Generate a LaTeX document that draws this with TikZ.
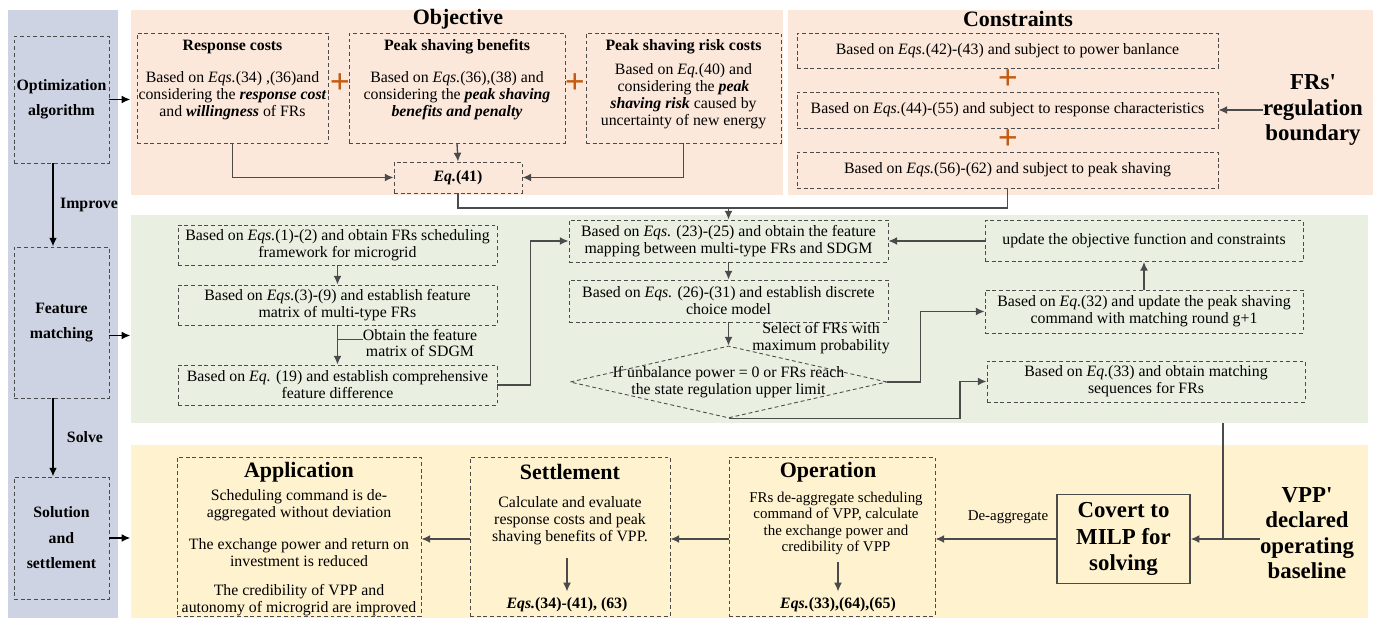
\documentclass[tikz,border=0pt]{standalone}
\usepackage{fontspec}
\setmainfont{Liberation Serif}
\usetikzlibrary{positioning,shapes.geometric,arrows.meta}
\definecolor{colbg}{RGB}{205,211,226}
\definecolor{objbg}{RGB}{251,232,219}
\definecolor{matchbg}{RGB}{233,240,225}
\definecolor{solvebg}{RGB}{255,242,206}
\definecolor{edge}{RGB}{75,75,75}
\definecolor{pluscol}{RGB}{197,90,17}
\newcommand{\tfs}{\fontsize{9}{9.6}\selectfont}
\tikzstyle{region} = [inner sep=0pt, anchor=north west]
\tikzstyle{dbox} = [draw=edge, line width=0.5pt, dash pattern=on 2.2pt off 1.6pt, inner sep=0pt]
\tikzstyle{txt} = [align=center, font=\tfs, inner sep=0pt]
\tikzstyle{head} = [font=\tfs\bfseries, inner sep=0pt]
\tikzstyle{title} = [font=\fontsize{12.5}{14.5}\selectfont\bfseries, align=center, inner sep=0pt]
\tikzstyle{side} = [font=\fontsize{9}{14.5}\selectfont\bfseries, align=center]
\tikzstyle{plus} = [text=pluscol, font=\fontsize{20}{20}\selectfont\bfseries, inner sep=0pt]
\tikzstyle{line} = [draw=edge, line width=0.75pt]
\tikzstyle{arr} = [line, -{Latex[length=5pt,width=4.5pt]}]
\tikzstyle{karr} = [draw=black, line width=1pt, -{Latex[length=5pt,width=4.5pt]}]

\begin{document}
\begin{tikzpicture}[x=0.2mm,y=-0.2mm]
\useasboundingbox (0,0) rectangle (1381,622);
% background panels
\node[region, fill=colbg, minimum width=110*.2mm, minimum height=608*.2mm] (colreg) at (8,10) {};
\node[region, fill=objbg, minimum width=652*.2mm, minimum height=185*.2mm] (objreg) at (131,10) {};
\node[region, fill=objbg, minimum width=585*.2mm, minimum height=185*.2mm] (conreg) at (788,10) {};
\node[region, fill=matchbg, minimum width=1237*.2mm, minimum height=208*.2mm] (matchreg) at (131,215) {};
\node[region, fill=solvebg, minimum width=1237*.2mm, minimum height=173*.2mm] (solvereg) at (131,445) {};

% left column
\node[dbox, side, minimum width=95*.2mm, minimum height=127*.2mm] (opt) at (61.5,99.5) {Optimization\\algorithm};
\node[dbox, side, minimum width=95*.2mm, minimum height=151*.2mm] (feat) at (61.5,322.5) {Feature\\matching};
\node[dbox, side, minimum width=95*.2mm, minimum height=122*.2mm] (sol) at (61.5,538) {Solution\\and\\settlement};
\node[side] (imp) at (89,205) {Improve};
\node[side] (slv) at (85,437) {Solve};
\draw[karr] ([xshift=-1.7mm]opt.south) -- ([xshift=-1.7mm]feat.north);
\draw[karr] ([xshift=-1.7mm]feat.south) -- ([xshift=-1.7mm]sol.north);
\draw[karr] (opt.east) -- +(21,0);
\draw[karr] ([yshift=-2.6mm]feat.east) -- +(21,0);
\draw[karr] (sol.east) -- +(21,0);

% objective
\node[title] (objt) at (458,19) {Objective};
\node[dbox, minimum width=191*.2mm, minimum height=110*.2mm] (resp) at (232.5,88) {};
\node[head] (resph) at (232.5,47) {Response costs};
\node[txt] (respt) at (232.5,96) {Based on \textit{Eqs.}(34) ,(36)and\\considering the \textbf{\textit{response cost}}\\and \textbf{\textit{willingness}} of FRs};
\node[dbox, minimum width=216*.2mm, minimum height=110*.2mm] (ben) at (457,88) {};
\node[head] (benh) at (457,47) {Peak shaving benefits};
\node[txt] (bent) at (457,96) {Based on \textit{Eqs.}(36),(38) and\\considering the \textbf{\textit{peak shaving}}\\\textbf{\textit{benefits and penalty}}};
\node[dbox, minimum width=195*.2mm, minimum height=110*.2mm] (risk) at (683.5,88) {};
\node[head] (riskh) at (683.5,47) {Peak shaving risk costs};
\node[txt] (riskt) at (683.5,96) {Based on \textit{Eq.}(40) and\\considering the \textbf{\textit{peak}}\\\textbf{\textit{shaving risk}} caused by\\uncertainty of new energy};
\node[plus] (p1) at (340,84) {+};
\node[plus] (p2) at (575,84) {+};
\node[dbox, font=\tfs, minimum width=128*.2mm, minimum height=31*.2mm] (eq41) at (458,177.5) {\textbf{\textit{Eq.}(41)}};
\draw[arr] (resp.south) |- (eq41.west);
\draw[arr] (ben.south) -- (eq41.north);
\draw[arr] (risk.south) |- (eq41.east);

% constraints
\node[title] (cont) at (1018,19) {Constraints};
\node[dbox, txt, minimum width=421*.2mm, minimum height=35*.2mm] (con1) at (1007.5,50.5) {Based on \textit{Eqs.}(42)-(43) and subject to power banlance};
\node[dbox, txt, minimum width=421*.2mm, minimum height=36*.2mm] (con2) at (1007.5,110) {Based on \textit{Eqs.}(44)-(55) and subject to response characteristics};
\node[dbox, txt, minimum width=421*.2mm, minimum height=36*.2mm] (con3) at (1007.5,170) {Based on \textit{Eqs.}(56)-(62) and subject to peak shaving};
\node[plus] (p3) at (1008,80) {+};
\node[plus] (p4) at (1008,140) {+};
\node[title, font=\fontsize{13}{14.5}\selectfont\bfseries] (frs) at (1313,110) {FRs\textquotesingle\\regulation\\boundary};
\draw[arr] (frs.west) -- (con2.east);

% feature matching
\node[dbox, txt, minimum width=319*.2mm, minimum height=40*.2mm] (a1) at (337.5,245) {Based on \textit{Eqs.}(1)-(2) and obtain FRs scheduling\\framework for microgrid};
\node[dbox, txt, minimum width=319*.2mm, minimum height=40*.2mm] (a2) at (337.5,305) {Based on \textit{Eqs.}(3)-(9) and establish feature\\matrix of multi-type FRs};
\node[dbox, txt, minimum width=319*.2mm, minimum height=40*.2mm] (a3) at (337.5,385) {Based on \textit{Eq.} (19) and establish comprehensive\\feature difference};
\node[txt] (sdgm) at (420,343) {Obtain the feature\\matrix of SDGM};
\coordinate (lead) at ([yshift=-2.2mm]sdgm.north west);
\draw[arr] (a1.south) -- (a2.north);
\draw[arr] (a2.south) -- (a3.north);
\draw[line] (lead) -- (lead -| a2.south);

\node[dbox, txt, minimum width=319*.2mm, minimum height=42*.2mm] (b1) at (728.5,241) {Based on \textit{Eqs.} (23)-(25) and obtain the feature\\mapping between multi-type FRs and SDGM};
\node[dbox, txt, minimum width=319*.2mm, minimum height=42*.2mm] (b2) at (728.5,301) {Based on \textit{Eqs.} (26)-(31) and establish discrete\\choice model};
\node[dbox, diamond, minimum width=317*.2mm, minimum height=72*.2mm] (dia) at (728.5,382) {};
\node[txt] (diat) at (728.5,382) {If unbalance power = 0 or FRs reach\\the state regulation upper limit};
\node[txt] (sel) at (821,338) {Select of FRs with\\maximum probability};
\coordinate (mid) at (728.5,208);
\draw[line] (eq41.south) |- (mid);
\draw[line] (con3.south) |- (mid);
\draw[arr] (mid) -- (b1.north);
\draw[arr] (a3.east) -- +(33,0) |- (b1.west);
\draw[arr] (b1.south) -- (b2.north);
\draw[arr] (b2.south) -- (dia.north);

\node[dbox, txt, minimum width=318*.2mm, minimum height=41*.2mm] (c1) at (1144,241) {update the objective function and constraints};
\node[dbox, txt, minimum width=318*.2mm, minimum height=43*.2mm] (c2) at (1144,311.5) {Based on \textit{Eq.}(32) and update the peak shaving\\command with matching round g+1};
\node[dbox, txt, minimum width=318*.2mm, minimum height=41*.2mm] (c3) at (1146,381.5) {Based on \textit{Eq.}(33) and obtain matching\\sequences for FRs};
\draw[arr] (c2.north) -- (c1.south);
\draw[arr] (c1.west) -- (b1.east);
\draw[arr] (dia.east) -- +(33,0) |- (c2.west);
\draw[arr] (dia.south) -- +(231.5,0) |- (c3.west);

% solution and settlement
\node[dbox, minimum width=244*.2mm, minimum height=159*.2mm] (app) at (299,536.5) {};
\node[title] (apph) at (299,472) {Application};
\node[txt] (app1) at (299,505.5) {Scheduling command is de-\\aggregated without deviation};
\node[txt] (app2) at (299,553) {The exchange power and return on\\investment is reduced};
\node[txt] (app3) at (299,600.5) {The credibility of VPP and\\autonomy of microgrid are improved};

\node[dbox, minimum width=200*.2mm, minimum height=159*.2mm] (set) at (570,536.5) {};
\node[title] (seth) at (570,472) {Settlement};
\node[txt] (sett) at (570,521) {Calculate and evaluate\\response costs and peak\\shaving benefits of VPP.};
\node[txt] (seteq) at (567,605) {\textbf{\textit{Eqs.}(34)-(41), (63)}};
\draw[arr] ([yshift=-2.6mm]sett.south -| seteq.north) -- ([yshift=1.2mm]seteq.north);

\node[dbox, minimum width=206*.2mm, minimum height=159*.2mm] (op) at (832,536.5) {};
\node[title] (oph) at (828,472) {Operation};
\node[txt, font=\fontsize{8.5}{9.2}\selectfont] (opt2) at (836,523.5) {FRs de-aggregate scheduling\\command of VPP, calculate\\the exchange power and\\credibility of VPP};
\node[txt] (opeq) at (838,605) {\textbf{\textit{Eqs.}(33),(64),(65)}};
\draw[arr] ([yshift=-1.4mm]opt2.south -| opeq.north) -- ([yshift=1.2mm]opeq.north);

\node[draw=edge, line width=0.75pt, font=\fontsize{13}{15.3}\selectfont\bfseries, align=center, minimum width=133*.2mm, minimum height=89*.2mm, inner sep=0pt] (milp) at (1123.5,539) {Covert to\\MILP for\\solving};
\node[txt, font=\fontsize{8.5}{9.2}\selectfont] (deagg) at (1008,517) {De-aggregate};
\node[title, font=\fontsize{13}{14.5}\selectfont\bfseries] (vpp) at (1307,533) {VPP\textquotesingle\\declared\\operating\\baseline};
\coordinate (gout) at (1223,423);
\draw[arr] (vpp.west |- milp.east) -- (milp.east);
\draw[line] (gout) -- (gout |- milp.east);
\draw[arr] (milp.west) -- (milp.west -| op.east);
\draw[arr] (op.west |- milp.west) -- (milp.west -| set.east);
\draw[arr] (set.west |- milp.west) -- (milp.west -| app.east);
\end{tikzpicture}
\end{document}
